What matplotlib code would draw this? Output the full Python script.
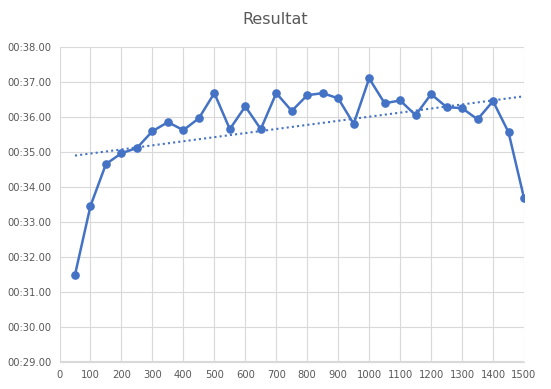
import numpy as np
import matplotlib
matplotlib.use("Agg")
import matplotlib.pyplot as plt
from matplotlib.ticker import FuncFormatter, MultipleLocator

distance = [50, 100, 150, 200, 250, 300, 350, 400, 450, 500, 550, 600, 650, 700, 750,
            800, 850, 900, 950, 1000, 1050, 1100, 1150, 1200, 1250, 1300, 1350, 1400, 1450, 1500]
seconds = [31.48, 33.45, 34.65, 34.96, 35.11, 35.59, 35.85, 35.62, 35.96, 36.68,
           35.65, 36.30, 35.65, 36.68, 36.17, 36.62, 36.68, 36.53, 35.80, 37.10,
           36.39, 36.47, 36.05, 36.65, 36.28, 36.25, 35.93, 36.45, 35.56, 33.68]
title = "Resultat"

blue = "#4472C4"
grid = "#D9D9D9"
txt = "#595959"

fig = plt.figure(figsize=(5.51, 3.89), dpi=100)
ax = fig.add_axes([59.5/551, 1-361.5/389, (524-59.5)/551, (361.5-47)/389])

x = np.array(distance, dtype=float)
y = np.array(seconds)
ax.plot(x, y, color=blue, lw=1.8, marker="o", ms=5.2, zorder=3)

coef = np.polyfit(x, y, 1)
xt = np.array([x.min(), x.max()])
ax.plot(xt, np.polyval(coef, xt), color=blue, lw=1.5, ls=(0, (1, 1.5)), zorder=2)

ax.set_xlim(0, 1500)
ax.set_ylim(29, 38)
ax.xaxis.set_major_locator(MultipleLocator(100))
ax.yaxis.set_major_locator(MultipleLocator(1))
ax.yaxis.set_major_formatter(FuncFormatter(lambda v, p: "00:%05.2f" % v))

ax.grid(True, color=grid, lw=0.8)
ax.set_axisbelow(True)
for s in ["top", "right", "left"]:
    ax.spines[s].set_visible(False)
ax.spines["bottom"].set_color(grid)
ax.tick_params(length=0, labelsize=7.2, colors=txt, pad=6)
for lab in ax.get_xticklabels() + ax.get_yticklabels():
    lab.set_family("DejaVu Sans")

fig.text(0.5, 1-19/389, title, ha="center", va="center", fontsize=11.5, color=txt)

fig.savefig("out.png", dpi=100)
